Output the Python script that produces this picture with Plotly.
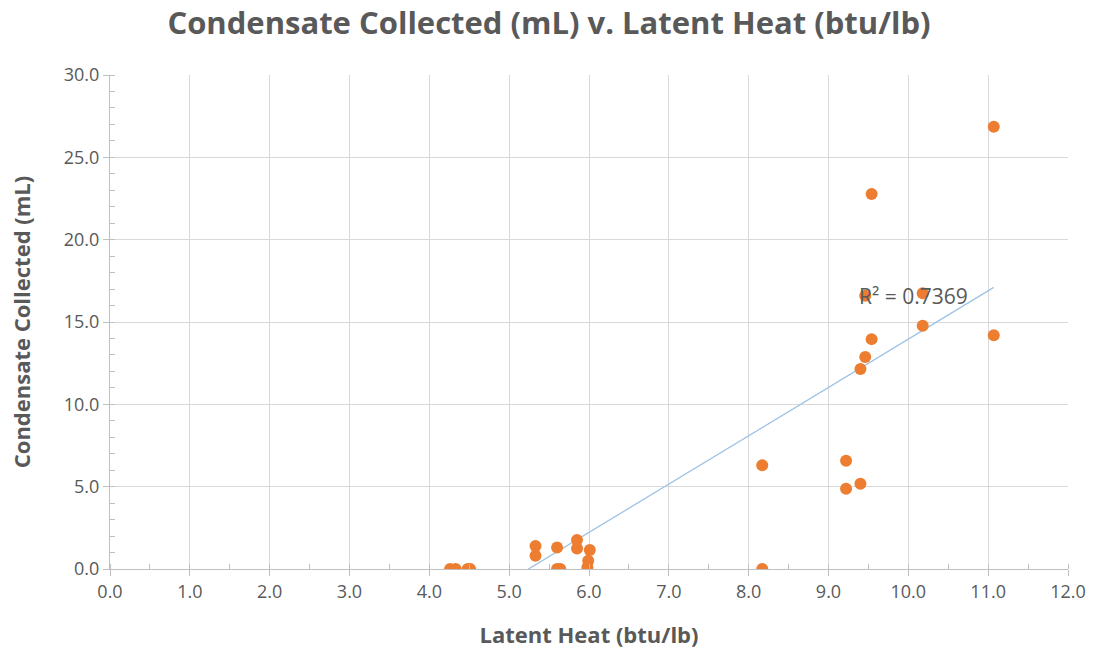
import numpy as np
import plotly.graph_objects as go

latent_heat = [4.26, 4.33, 4.48, 4.51, 5.33, 5.33, 5.60, 5.60, 5.64, 5.85, 5.85,
               6.01, 5.99, 5.98, 8.17, 8.17, 9.22, 9.22, 9.40, 9.40, 9.46, 9.46,
               9.54, 9.54, 10.18, 10.18, 11.07, 11.07]
condensate = [0.0, 0.0, 0.0, 0.0, 1.4, 0.8, 1.3, 0.0, 0.0, 1.76, 1.25,
              1.15, 0.5, 0.1, 6.3, 0.0, 6.58, 4.88, 5.18, 12.14, 12.87, 16.6,
              13.96, 22.77, 16.74, 14.77, 14.19, 26.86]
r2_label = "R² = 0.7369"

x = np.array(latent_heat)
y = np.array(condensate)
slope, intercept = np.polyfit(x, y, 1)
tx = np.linspace(x.min(), x.max(), 200)
ty = slope * tx + intercept

grey = "#595959"
fig = go.Figure()
fig.add_trace(go.Scatter(x=tx, y=ty, mode="lines",
                         line=dict(color="#9DC3E6", width=1.3),
                         hoverinfo="skip", showlegend=False))
fig.add_trace(go.Scatter(x=latent_heat, y=condensate, mode="markers",
                         marker=dict(color="#ED7D31", size=12),
                         showlegend=False))
fig.add_annotation(x=10.07, y=16.6, text=r2_label, showarrow=False,
                   font=dict(size=21, color=grey, family="Open Sans"))

axis_common = dict(
    showgrid=True, gridcolor="#d9d9d9", gridwidth=1,
    showline=True, linecolor="#bfbfbf", linewidth=1,
    ticks="outside", ticklen=6, tickcolor="#bfbfbf",
    tickfont=dict(size=18, color=grey, family="Open Sans"),
    zeroline=False, tickformat=".1f",
)
fig.update_layout(
    width=1098, height=657,
    margin=dict(l=110, r=22, t=75, b=88),
    paper_bgcolor="white", plot_bgcolor="white",
    title=dict(text="<b>Condensate Collected (mL) v. Latent Heat (btu/lb)</b>",
               x=0.5, xanchor="center", y=0.965, yanchor="middle",
               font=dict(size=31, color=grey, family="Open Sans")),
    xaxis=dict(range=[0, 12], dtick=1, **axis_common,
               minor=dict(dtick=0.5, ticks="inside", ticklen=5, tickcolor="#bfbfbf", showgrid=False),
               title=dict(text="<b>Latent Heat (btu/lb)</b>", standoff=26,
                          font=dict(size=22, color=grey, family="Open Sans"))),
    yaxis=dict(range=[0, 30], dtick=5, **axis_common,
               minor=dict(dtick=1, ticks="inside", ticklen=5, tickcolor="#bfbfbf", showgrid=False),
               title=dict(text="<b>Condensate Collected (mL)</b>", standoff=27,
                          font=dict(size=22, color=grey, family="Open Sans"))),
)
fig.write_html("out.html")
